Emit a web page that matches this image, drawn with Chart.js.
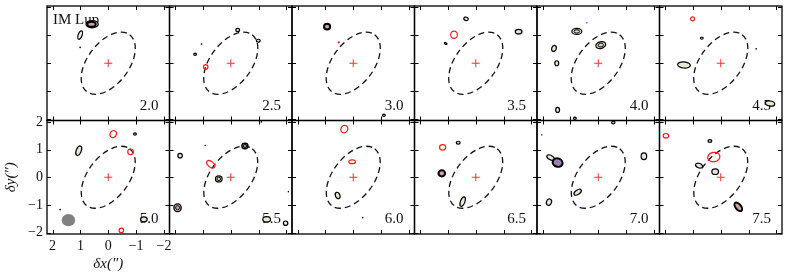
<!DOCTYPE html>
<html>
<head>
<meta charset="utf-8">
<script src="https://cdn.jsdelivr.net/npm/chart.js@4/dist/chart.umd.min.js"></script>
<style>
  body { margin: 0; background: #fff; }
  #wrap { position: relative; width: 789px; height: 279px; }
  #wrap canvas { position: absolute; left: 0; top: 0; }
</style>
</head>
<body>
<div id="wrap"></div>
<script>
// channel velocities (km/s), one panel each
const channels = ['2.0', '2.5', '3.0', '3.5', '4.0', '4.5', '5.0', '5.5', '6.0', '6.5', '7.0', '7.5'];
const xTicks = [2, 1, 0, -1, -2];
const yTicks = [2, 1, 0, -1, -2];
const starPos = [0, 0];
// dashed disk outline: x, y, semi-major, semi-minor, angle (deg)
const diskOutline = [0, 0, 1.28, 0.74, 53];
const beam = [1.43, -1.55, 0.24, 0.22, 0];

// contour blobs: [dx, dy, rx, ry, angle, style]
const c20 = [[0.58, 1.40, 0.22, 0.13, 0, 'k'], [0.60, 1.40, 0.15, 0.09, 0, 'p'],
  [1.01, 1.01, 0.16, 0.07, 70, 'k'], [1.01, 0.57, 0.03, 0.03, 0, 'd']];
const c25 = [[-0.25, 1.19, 0.07, 0.06, 0, 'k'], [-0.99, 0.81, 0.07, 0.05, 0, 'k'],
  [1.28, 0.32, 0.05, 0.04, 0, 'k'], [1.05, 0.69, 0.03, 0.03, 0, 'd'], [0.90, -0.13, 0.08, 0.08, 0, 'r']];
const c30 = [[0.94, 1.31, 0.11, 0.10, 0, 'p'], [0.52, 0.75, 0.04, 0.04, 0, 'rd'], [-1.10, -1.86, 0.05, 0.04, 0, 'k']];
const c35 = [[0.35, 1.59, 0.08, 0.06, -20, 'k'], [0.78, 1.02, 0.12, 0.13, 0, 'r'],
  [-1.54, 1.13, 0.12, 0.08, 0, 'k'], [1.08, 0.71, 0.05, 0.03, -30, 'k']];
const c40 = [[0.41, 1.45, 0.02, 0.02, 0, 'rd'], [0.77, 1.14, 0.18, 0.11, 0, 'k2'],
  [-0.09, 0.65, 0.18, 0.12, 15, 'k2'], [1.59, 0.53, 0.08, 0.11, -20, 'k'],
  [1.49, 0.00, 0.07, 0.09, 0, 'k'], [1.46, -1.67, 0.07, 0.09, 0, 'k'], [0.84, -1.97, 0.05, 0.04, 0, 'k']];
const c45 = [[1.01, 1.59, 0.07, 0.07, 0, 'r'], [0.68, 0.90, 0.05, 0.04, 0, 'k'],
  [-1.27, 0.52, 0.03, 0.03, 0, 'd'], [1.32, -0.06, 0.23, 0.11, -5, 'k'], [-1.77, -1.44, 0.17, 0.09, -10, 'k']];
const c50 = [[-0.18, 1.56, 0.11, 0.13, -30, 'r'], [-0.96, 1.56, 0.05, 0.04, 0, 'k'],
  [1.06, 0.96, 0.09, 0.18, -20, 'k'], [-0.80, 0.92, 0.10, 0.10, 0, 'r'],
  [1.73, -1.17, 0.03, 0.03, 0, 'd'], [-0.47, -1.92, 0.08, 0.08, 0, 'r'], [-1.28, -1.52, 0.12, 0.09, 0, 'k']];
const c55 = [[1.82, 0.78, 0.08, 0.08, 0, 'k'], [-0.51, 1.13, 0.11, 0.10, 0, 'p2'],
  [0.72, 0.47, 0.17, 0.10, -40, 'r'], [0.43, -0.06, 0.12, 0.11, 0, 'k2'],
  [0.92, 1.15, 0.02, 0.02, 0, 'd'], [-2.07, -0.52, 0.02, 0.03, 0, 'd'],
  [1.91, -1.10, 0.13, 0.14, 0, 'p2'], [-1.29, -1.52, 0.14, 0.10, 0, 'k'],
  [-1.97, -1.66, 0.08, 0.08, 0, 'k'], [-1.10, 2.00, 0.03, 0.03, 0, 'd']];
const c60 = [[0.32, 1.74, 0.12, 0.14, -30, 'r'], [0.04, 0.56, 0.12, 0.07, 0, 'r'],
  [0.56, -0.66, 0.08, 0.12, 20, 'k'], [-0.34, -1.46, 0.03, 0.03, 0, 'd']];
const c65 = [[1.19, 1.08, 0.11, 0.10, 0, 'r'], [0.63, 1.25, 0.07, 0.05, 0, 'k'],
  [1.22, 0.14, 0.12, 0.11, 0, 'p'], [0.47, -0.88, 0.08, 0.18, -20, 'k']];
const c70 = [[2.03, 1.53, 0.02, 0.02, 0, 'd'], [-0.54, 1.98, 0.06, 0.05, 0, 'k'],
  [1.71, 0.71, 0.15, 0.08, -30, 'k'], [1.46, 0.53, 0.18, 0.15, -20, 'v'],
  [-1.64, 0.76, 0.10, 0.12, 0, 'k'], [0.74, -0.54, 0.15, 0.08, 35, 'k'], [1.77, -0.90, 0.09, 0.12, -20, 'k']];
const c75 = [[1.97, 1.50, 0.10, 0.08, 0, 'r'], [0.39, 1.31, 0.07, 0.05, 0, 'k'],
  [0.25, 0.73, 0.22, 0.17, 10, 'r'], [0.78, 0.42, 0.13, 0.08, -20, 'k'],
  [0.20, 0.20, 0.12, 0.10, 0, 'k'], [-0.63, -1.07, 0.18, 0.10, -50, 'p']];
const blobs = [c20, c25, c30, c35, c40, c45, c50, c55, c60, c65, c70, c75];

const styles = {
  k:  { fill: '#e6e8d6', stroke: '#000', lw: 1.2 },
  k2: { fill: '#e6e8d6', stroke: '#000', lw: 1.2, inner: '#d8dac4' },
  p:  { fill: '#c9a19d', stroke: '#000', lw: 2 },
  p2: { fill: '#e6e8d6', stroke: '#000', lw: 1.4, inner: '#c9a19d' },
  v:  { fill: '#9c82b4', stroke: '#000', lw: 2 },
  r:  { fill: null, stroke: '#ff1a1a', lw: 1.2 },
  rd: { fill: '#ff1a1a', stroke: null, lw: 0 },
  d:  { fill: '#000', stroke: null, lw: 0 }
};

const serif = "'Liberation Serif', 'DejaVu Serif', serif";

function ellipsePath(chart, e, k) {
  const xs = chart.scales.x, ys = chart.scales.y;
  const px = xs.getPixelForValue(e[0]), py = ys.getPixelForValue(e[1]);
  const kx = Math.abs(xs.getPixelForValue(1) - xs.getPixelForValue(0));
  const ky = Math.abs(ys.getPixelForValue(1) - ys.getPixelForValue(0));
  const ctx = chart.ctx;
  ctx.beginPath();
  ctx.ellipse(px, py, Math.max(e[2] * kx * k, 0.7), Math.max(e[3] * ky * k, 0.7),
    -e[4] * Math.PI / 180, 0, 2 * Math.PI);
}

const panelPlugin = {
  id: 'panel',
  beforeDatasetsDraw(chart, args, opts) {
    const ctx = chart.ctx, a = chart.chartArea;
    ctx.save();
    ctx.beginPath();
    ctx.rect(a.left, a.top, a.right - a.left, a.bottom - a.top);
    ctx.clip();

    // disk outline
    ctx.setLineDash([6, 4]);
    ctx.strokeStyle = '#111';
    ctx.lineWidth = 1.3;
    ellipsePath(chart, diskOutline, 1);
    ctx.stroke();
    ctx.setLineDash([]);

    // labels
    ctx.fillStyle = '#111';
    ctx.font = '15px ' + serif;
    ctx.textBaseline = 'alphabetic';
    ctx.textAlign = 'right';
    ctx.fillText(opts.label, a.right - 11, a.bottom - 11);
    if (opts.name) {
      ctx.textAlign = 'left';
      ctx.fillText(opts.name, a.left + 6, a.top + 18);
    }

    if (opts.beam) {
      ctx.fillStyle = '#808080';
      ellipsePath(chart, beam, 1);
      ctx.fill();
    }

    opts.blobs.forEach(b => {
      const s = styles[b[5]];
      ellipsePath(chart, b, 1);
      if (s.fill) { ctx.fillStyle = s.fill; ctx.fill(); }
      if (s.stroke) { ctx.strokeStyle = s.stroke; ctx.lineWidth = s.lw; ctx.stroke(); }
      if (s.inner) {
        ellipsePath(chart, b, 0.55);
        ctx.fillStyle = s.inner; ctx.fill();
        ctx.lineWidth = 1; ctx.stroke();
      }
    });
    ctx.restore();
  },
  afterDraw(chart) {
    const ctx = chart.ctx, a = chart.chartArea;
    const xs = chart.scales.x, ys = chart.scales.y;
    ctx.save();
    ctx.strokeStyle = '#000';
    ctx.lineWidth = 1;
    ctx.beginPath();
    xTicks.forEach(v => {
      const p = Math.round(xs.getPixelForValue(v)) + 0.5;
      ctx.moveTo(p, a.top); ctx.lineTo(p, a.top + 4);
      ctx.moveTo(p, a.bottom); ctx.lineTo(p, a.bottom - 4);
    });
    yTicks.forEach(v => {
      const p = Math.round(ys.getPixelForValue(v)) + 0.5;
      ctx.moveTo(a.left, p); ctx.lineTo(a.left + 4, p);
      ctx.moveTo(a.right, p); ctx.lineTo(a.right - 4, p);
    });
    ctx.stroke();
    ctx.lineWidth = 1.3;
    ctx.strokeRect(a.left, a.top, a.right - a.left, a.bottom - a.top);
    ctx.restore();
  }
};

const wrap = document.getElementById('wrap');
const minus = v => (v < 0 ? '\u2212' + Math.abs(v) : String(v));

channels.forEach((ch, i) => {
  const col = i % 6, row = Math.floor(i / 6);
  const left = 47 + col * 122.5, right = left + 122.5;
  const top = row === 0 ? 6 : 120.5, bottom = row === 0 ? 120.5 : 234;
  const labelled = col === 0 && row === 1;

  const canvas = document.createElement('canvas');
  canvas.width = 789;
  canvas.height = 279;
  wrap.appendChild(canvas);

  new Chart(canvas, {
    type: 'scatter',
    data: {
      datasets: [{
        data: [{ x: starPos[0], y: starPos[1] }],
        pointStyle: 'cross',
        pointRadius: 4,
        borderColor: '#ff3030',
        borderWidth: 1
      }]
    },
    options: {
      responsive: false,
      animation: false,
      events: [],
      layout: {
        autoPadding: false,
        padding: labelled
          ? { left: 0, top: top, right: 789 - right, bottom: 0 }
          : { left: left, top: top, right: 789 - right, bottom: 279 - bottom }
      },
      scales: {
        x: {
          type: 'linear',
          min: -2.2, max: 2.2, reverse: true,
          display: labelled,
          afterBuildTicks: s => { s.ticks = xTicks.map(v => ({ value: v })); },
          afterFit: s => { if (labelled) s.height = 45; },
          grid: { display: false, drawTicks: false },
          border: { display: false },
          ticks: { padding: 4, color: '#111', maxRotation: 0, font: { family: serif, size: 14 }, callback: minus },
          title: { display: true, text: 'δx(″)', color: '#111', padding: { top: 0, bottom: 6 },
                   font: { family: serif, size: 15, style: 'italic' } }
        },
        y: {
          type: 'linear',
          min: -2.05, max: 2.05,
          display: labelled,
          afterBuildTicks: s => { s.ticks = yTicks.map(v => ({ value: v })); },
          afterFit: s => { if (labelled) s.width = 47; },
          grid: { display: false, drawTicks: false },
          border: { display: false },
          ticks: { padding: 4, color: '#111', font: { family: serif, size: 14 }, callback: minus },
          title: { display: true, text: 'δy(″)', color: '#111', padding: { top: 2, bottom: 0 },
                   font: { family: serif, size: 15, style: 'italic' } }
        }
      },
      plugins: {
        legend: { display: false },
        tooltip: { enabled: false },
        panel: { label: ch, name: i === 0 ? 'IM Lup' : '', beam: labelled, blobs: blobs[i] }
      }
    },
    plugins: [panelPlugin]
  });
});
</script>
</body>
</html>
